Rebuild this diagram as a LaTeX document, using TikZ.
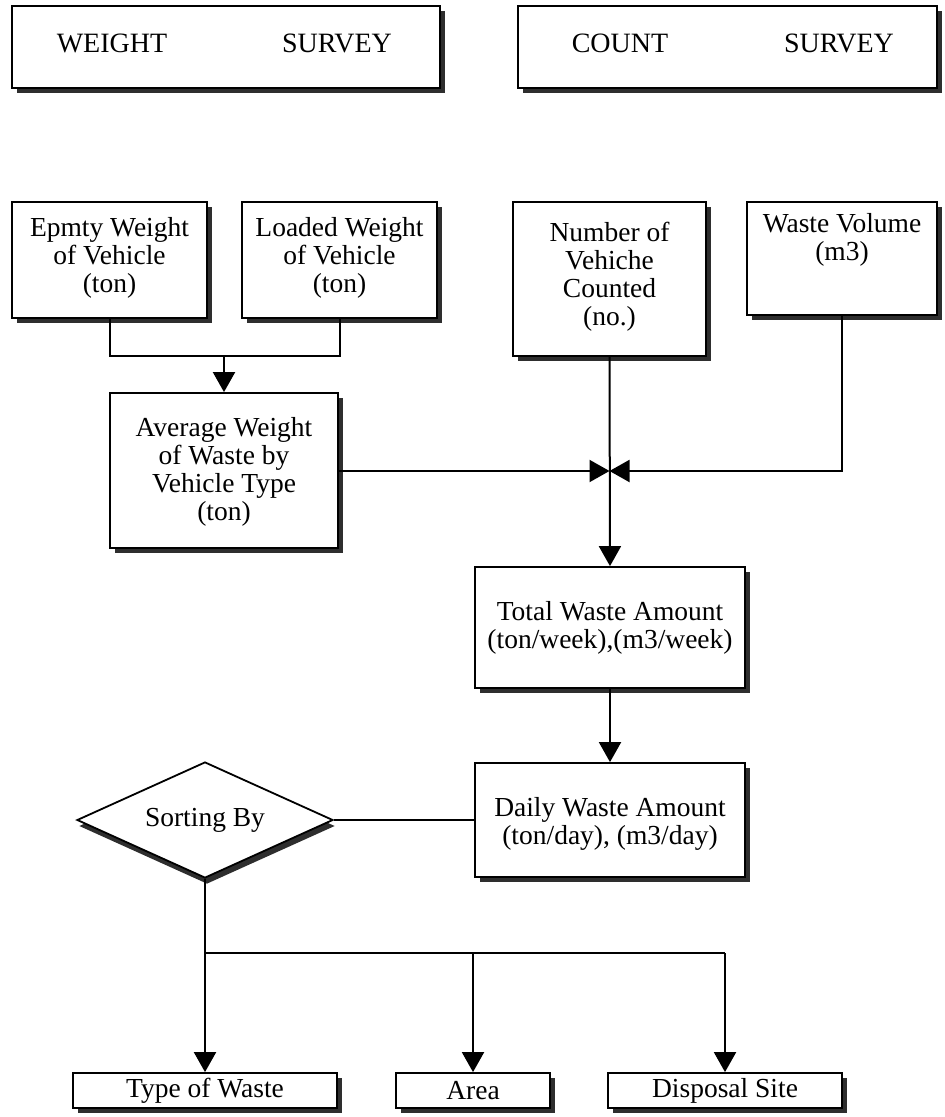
\documentclass[tikz,border=0pt]{standalone}
\usepackage{fontspec}
\setmainfont{Liberation Serif}
\usetikzlibrary{shapes.geometric,shadows,arrows.meta}

\begin{document}
\begin{tikzpicture}[x=0.5pt,y=-0.5pt,
  font=\fontsize{13.75}{14}\selectfont,
  shade/.style={drop shadow={shadow xshift=2.5pt,shadow yshift=-2.5pt,fill=black!82,opacity=1}},
  box/.style={draw,line width=0.9pt,fill=white,inner sep=0pt,shade},
  txt/.style={align=center,inner sep=0pt},
  dia/.style={diamond,draw,line width=0.9pt,fill=white,inner sep=0pt,
    minimum width=128pt,minimum height=58pt,
    drop shadow={shadow xshift=1pt,shadow yshift=-3pt,fill=black!82,opacity=1}},
  link/.style={line width=1pt},
  arr/.style={line width=1pt,-{Triangle[length=10pt,width=11pt]}}]

\useasboundingbox (0,0) rectangle (944,1117);

% survey headers
\node[box,minimum width=214pt,minimum height=41pt] (ws) at (226,47) {};
\node[txt,font=\fontsize{14}{14}\selectfont] (ws-a) at (112,43) {WEIGHT};
\node[txt,font=\fontsize{14}{14}\selectfont] (ws-b) at (337,43) {SURVEY};
\node[box,minimum width=209.5pt,minimum height=41pt] (cs) at (727.5,47) {};
\node[txt,font=\fontsize{14}{14}\selectfont] (cs-a) at (620,43) {COUNT};
\node[txt,font=\fontsize{14}{14}\selectfont] (cs-b) at (839,43) {SURVEY};

% measured inputs
\node[box,minimum width=97.5pt,minimum height=58pt] (epmty) at (109.5,260) {};
\node[txt] (epmty-t) at (109.5,258) {Epmty Weight\\of Vehicle\\(ton)};
\node[box,minimum width=97.5pt,minimum height=58pt] (loaded) at (339.5,260) {};
\node[txt] (loaded-t) at (339.5,258) {Loaded Weight\\of Vehicle\\(ton)};
\node[box,minimum width=96.5pt,minimum height=77pt] (num) at (609.5,279) {};
\node[txt] (num-t) at (609.5,277) {Number of\\Vehiche\\Counted\\(no.)};
\node[box,minimum width=95pt,minimum height=56.5pt] (wv) at (842,258.5) {};
\node[txt] (wv-t) at (842,240) {Waste Volume\\(m3)};

% derived quantities
\node[box,minimum width=114pt,minimum height=77.5pt] (avg) at (224,470.5) {};
\node[txt] (avg-t) at (224,472) {Average Weight\\of Waste by\\Vehicle Type\\(ton)};
\node[box,minimum width=135pt,minimum height=60.5pt] (total) at (610,627.5) {};
\node[txt] (total-t) at (610,627.5) {Total Waste Amount\\(ton/week),(m3/week)};
\node[box,minimum width=135pt,minimum height=57pt] (daily) at (610,820) {};
\node[txt] (daily-t) at (610,824) {Daily Waste Amount\\(ton/day), (m3/day)};

% sorting
\node[dia] (sort) at (205,820) {};
\node[txt] (sort-t) at (205,820.5) {Sorting By};
\node[box,minimum width=132pt,minimum height=17.5pt] (type) at (205,1090.5) {Type of Waste};
\node[box,minimum width=77pt,minimum height=17.5pt] (area) at (473,1090.5) {Area};
\node[box,minimum width=117pt,minimum height=17.5pt] (disp) at (725,1090.5) {Disposal Site};

% weight branch
\coordinate (j1) at (224,356);
\draw[link] (epmty.south) |- (j1) -| (loaded.south);
\draw[arr] (j1) -- (avg.north);

% merging into the count line
\coordinate (bow) at (609.5,471);
\draw[arr] (avg.east |- bow) -- (bow);
\draw[arr] (wv.south) |- (bow);
\draw[arr] (num.south) -- (total.north);
\draw[arr] (total.south) -- (daily.north);
\draw[link] (sort.east) -- (daily.west);

% sorting branches
\coordinate (br) at (205,953);
\draw[link] (sort.south) -- (br) -- (disp.north |- br);
\draw[arr] (br) -- (type.north);
\draw[arr] (area.north |- br) -- (area.north);
\draw[arr] (disp.north |- br) -- (disp.north);
\end{tikzpicture}
\end{document}
